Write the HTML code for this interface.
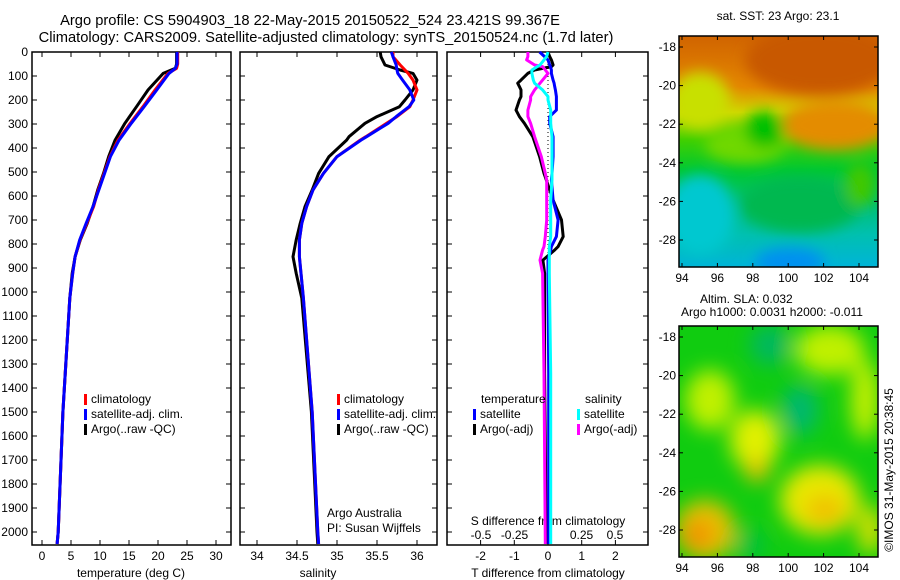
<!DOCTYPE html>
<html><head><meta charset="utf-8"><style>
body{margin:0;background:#fff}
svg{display:block;font-family:"Liberation Sans",sans-serif}
</style></head><body>
<svg id="chart" width="900" height="580" viewBox="0 0 900 580">
<defs>
<filter id="blur6" x="-50%" y="-50%" width="200%" height="200%"><feGaussianBlur stdDeviation="7"/></filter>
<filter id="blur10" x="-50%" y="-50%" width="200%" height="200%"><feGaussianBlur stdDeviation="10"/></filter>
<linearGradient id="sstg" x1="0" y1="0" x2="0" y2="1">
<stop offset="0" stop-color="#d06400"/><stop offset="0.22" stop-color="#e48600"/>
<stop offset="0.33" stop-color="#d0d800"/><stop offset="0.45" stop-color="#40d000"/>
<stop offset="0.58" stop-color="#00c830"/><stop offset="0.72" stop-color="#00c070"/>
<stop offset="0.86" stop-color="#00c0b0"/><stop offset="1" stop-color="#00b4d8"/>
</linearGradient>
<clipPath id="clip1"><rect x="679" y="36" width="199" height="231"/></clipPath>
<clipPath id="clip2"><rect x="679" y="326" width="199" height="231"/></clipPath>
</defs>
<g id="titles" font-size="14.7" text-anchor="middle">
<text x="310" y="25">Argo profile: CS 5904903_18 22-May-2015 20150522_524 23.421S 99.367E</text>
<text x="326" y="42">Climatology: CARS2009. Satellite-adjusted climatology: synTS_20150524.nc (1.7d later)</text>
</g>
<g id="p1"></g>
<g id="p2"></g>
<g id="p3"></g>
<g id="maps">
<text x="778" y="20" font-size="12" text-anchor="middle">sat. SST: 23 Argo: 23.1</text>
<g clip-path="url(#clip1)">
<rect x="679" y="36" width="199" height="231" fill="url(#sstg)"/>
<g filter="url(#blur6)">
<ellipse cx="820" cy="60" rx="75" ry="35" fill="#c85800"/>
<ellipse cx="700" cy="100" rx="30" ry="28" fill="#c8e000"/>
<ellipse cx="835" cy="125" rx="55" ry="25" fill="#e48c00"/>
<ellipse cx="745" cy="145" rx="40" ry="18" fill="#70d800"/>
<ellipse cx="765" cy="130" rx="20" ry="18" fill="#00c000"/>
<ellipse cx="700" cy="215" rx="35" ry="40" fill="#00c8d0"/>
<ellipse cx="800" cy="205" rx="60" ry="28" fill="#00b850"/>
<ellipse cx="790" cy="262" rx="35" ry="14" fill="#0090f0"/>
<ellipse cx="860" cy="185" rx="15" ry="22" fill="#40c800"/>
</g></g>
<rect x="679" y="36" width="199" height="231" fill="none" stroke="#000" stroke-width="1.5"/>
<text x="700" y="303" font-size="12">Altim. SLA: 0.032</text>
<text x="681" y="316" font-size="12">Argo h1000: 0.0031 h2000: -0.011</text>
<g clip-path="url(#clip2)">
<rect x="679" y="326" width="199" height="231" fill="#10cc10"/>
<g filter="url(#blur10)">
<ellipse cx="770" cy="345" rx="20" ry="20" fill="#00b860"/>
<ellipse cx="830" cy="350" rx="35" ry="25" fill="#c0f000"/>
<ellipse cx="710" cy="400" rx="25" ry="30" fill="#c0f000"/>
<ellipse cx="755" cy="440" rx="25" ry="30" fill="#e0f000"/>
<ellipse cx="757" cy="470" rx="12" ry="12" fill="#f0c000"/>
<ellipse cx="800" cy="410" rx="18" ry="25" fill="#00b870"/>
<ellipse cx="820" cy="500" rx="40" ry="35" fill="#e8e800"/>
<ellipse cx="825" cy="510" rx="20" ry="15" fill="#f0c000"/>
<ellipse cx="705" cy="530" rx="30" ry="30" fill="#e8c000"/>
<ellipse cx="698" cy="535" rx="15" ry="15" fill="#f09000"/>
<ellipse cx="865" cy="400" rx="14" ry="40" fill="#c8f000"/>
<ellipse cx="870" cy="530" rx="12" ry="25" fill="#e0e000"/>
<ellipse cx="750" cy="545" rx="15" ry="15" fill="#00c040"/>
</g></g>
<rect x="679" y="326" width="199" height="231" fill="none" stroke="#000" stroke-width="1.5"/>
<text transform="translate(893,470) rotate(-90)" font-size="12" text-anchor="middle">©IMOS 31-May-2015 20:38:45</text>
</g>
</svg>
<script>
var tDepth = [0,50,68,89,158,228,297,367,436,506,575,644,714,783,853,922,1026,1500,2000,2050];
var tClim  = [23.4,23.4,23.2,21.7,19.5,17.4,15.2,13.1,11.7,10.7,9.7,8.9,7.7,6.55,5.7,5.3,4.8,3.6,2.8,2.6];
var tSat   = [23.3,23.3,23.0,21.9,19.8,17.6,15.4,13.3,11.8,10.8,9.8,8.8,7.6,6.5,5.7,5.3,4.8,3.6,2.8,2.6];
var tArgo  = [23.2,23.2,23.0,20.9,18.3,16.3,14.3,12.6,11.5,10.6,9.6,8.8,7.8,6.6,5.7,5.2,4.8,3.6,2.8,2.6];
var sDepth = [0,20,54,75,89,117,158,200,228,269,297,353,367,436,506,575,644,714,783,853,922,1026,1500,2000,2050];
var sClim  = [35.7,35.7,35.79,35.85,35.89,35.95,36.0,35.95,35.91,35.75,35.62,35.36,35.29,35.0,34.83,34.7,34.62,34.56,34.53,34.53,34.55,34.58,34.69,34.76,34.77];
var sSat   = [35.68,35.7,35.74,35.75,35.76,35.82,35.91,35.96,35.9,35.74,35.64,35.37,35.3,35.0,34.83,34.7,34.62,34.56,34.53,34.53,34.55,34.58,34.69,34.76,34.77];
var sArgo  = [35.54,35.55,35.6,35.79,35.95,36.0,35.95,35.85,35.78,35.5,35.35,35.15,35.12,34.9,34.77,34.69,34.6,34.54,34.49,34.45,34.49,34.56,34.68,34.75,34.76];
var dDepth = [0,19,33,54,61,75,89,117,130,144,158,186,200,242,269,297,353,436,506,533,617,700,769,811,825,867,922,1339,2050];
var dTArgo = [0,0.05,0.1,0.15,0.1,-0.4,-0.6,-0.8,-0.9,-0.85,-0.8,-0.8,-0.85,-0.95,-0.85,-0.7,-0.45,-0.25,-0.12,-0.05,0.15,0.4,0.45,0.3,0.2,-0.15,-0.1,-0.1,-0.05];
var dTSat  = [-0.25,-0.1,0,0.05,0.07,0.1,0.1,0.15,0.18,0.2,0.22,0.25,0.25,0.25,0.05,0.05,0.15,0.15,0.12,0.1,0.15,0.3,0.25,0.1,0.08,0,0,0.02,0.02];
var dSArgo = [-0.15,-0.15,-0.16,-0.1,-0.04,-0.02,0,-0.04,-0.06,-0.08,-0.1,-0.13,-0.13,-0.15,-0.15,-0.13,-0.1,-0.05,-0.02,-0.01,-0.01,-0.01,-0.02,-0.03,-0.04,-0.06,-0.04,-0.03,-0.02];
var dSSat  = [0,-0.01,-0.03,-0.06,-0.08,-0.12,-0.12,-0.11,-0.1,-0.07,-0.04,0,0,0.02,0.02,0.02,0.03,0.03,0.03,0.03,0.02,0.02,0.02,0.01,0.01,0.01,0.01,0.02,0.02];
var depthTicks = [0,100,200,300,400,500,600,700,800,900,1000,1100,1200,1300,1400,1500,1600,1700,1800,1900,2000];
var tTicks = [0,5,10,15,20,25,30];
var sTicks = [34,34.5,35,35.5,36];
var dtTicks = [-2,-1,0,1,2];
var dsTicks = ["-0.5","-0.25","0","0.25","0.5"];
var lonTicks = [94,96,98,100,102,104];
var latTicks = [-18,-20,-22,-24,-26,-28];

var NS='http://www.w3.org/2000/svg';
var svg=document.getElementById('chart');
function el(parent,tag,attrs,text){var e=document.createElementNS(NS,tag);for(var k in attrs)e.setAttribute(k,attrs[k]);if(text!==undefined)e.textContent=text;parent.appendChild(e);return e;}
var Y0=52, Y1=545;
function yD(d){return 52+d*0.24;}
function xT(v){return 42+v*5.8;}
function xS(v){return 257+(v-34)*80;}
function xDT(v){return 548+v*33.7;}
function xDS(v){return 548+v*134;}
function frame(g,x0,x1,name){
  var r=el(g,'rect',{x:x0,y:Y0,width:x1-x0,height:Y1-Y0,fill:'none',stroke:'#000','stroke-width':1.5});
  
  
  depthTicks.forEach(function(d){
    el(g,'line',{x1:x0,x2:x0+5,y1:yD(d),y2:yD(d),stroke:'#000'});
    el(g,'line',{x1:x1,x2:x1-5,y1:yD(d),y2:yD(d),stroke:'#000'});
  });
}
function xticks(g,arr,f,labels,y){
  arr.forEach(function(v,i){
    var x=f(v);
    el(g,'line',{x1:x,x2:x,y1:Y0,y2:Y0+5,stroke:'#000'});
    el(g,'line',{x1:x,x2:x,y1:Y1,y2:Y1-5,stroke:'#000'});
    if(labels){var t=el(g,'text',{x:x,y:y,'font-size':12,'text-anchor':'middle'},labels[i]);
    
    }
  });
}
function line(g,vals,depths,f,color,w,name){
  var pts=vals.map(function(v,i){return f(v).toFixed(1)+','+yD(depths[i]).toFixed(1);}).join(' ');
  var p=el(g,'polyline',{points:pts,fill:'none',stroke:color,'stroke-width':w,'stroke-linejoin':'round'});
  
  
}
function legendItem(g,x,y,color,label,name){
  el(g,'rect',{x:x,y:y-9,width:3,height:11,fill:color});
  var t=el(g,'text',{x:x+7,y:y,'font-size':12},label);
  
  
}
var ya=el(svg,'g',{});


depthTicks.forEach(function(d){el(ya,'text',{x:28,y:yD(d)+4,'font-size':12,'text-anchor':'end'},String(d));});

var p1=document.getElementById('p1');
frame(p1,32,231,'temperature');
xticks(p1,tTicks,xT,tTicks.map(String),560);
line(p1,tArgo,tDepth,xT,'#000',3,'argo-temperature-line');
line(p1,tClim,tDepth,xT,'#f00',3,'climatology-temperature-line');
line(p1,tSat,tDepth,xT,'#00f',3,'satellite-temperature-line');
el(p1,'text',{x:131,y:577,'font-size':12,'text-anchor':'middle'},'temperature (deg C)');
legendItem(p1,84,403,'#f00','climatology','legend-climatology');
legendItem(p1,84,418,'#00f','satellite-adj. clim.','legend-satellite');
legendItem(p1,84,433,'#000','Argo(..raw -QC)','legend-argo');

var p2=document.getElementById('p2');
frame(p2,240,437,'salinity');
xticks(p2,sTicks,xS,['34','34.5','35','35.5','36'],560);
line(p2,sArgo,sDepth,xS,'#000',3,'argo-salinity-line');
line(p2,sClim,sDepth,xS,'#f00',3,'climatology-salinity-line');
line(p2,sSat,sDepth,xS,'#00f',3,'satellite-salinity-line');
el(p2,'text',{x:318,y:577,'font-size':12,'text-anchor':'middle'},'salinity');
legendItem(p2,337,403,'#f00','climatology','legend2-climatology');
legendItem(p2,337,418,'#00f','satellite-adj. clim.','legend2-satellite');
legendItem(p2,337,433,'#000','Argo(..raw -QC)','legend2-argo');
el(p2,'text',{x:327,y:517,'font-size':12},'Argo Australia');
el(p2,'text',{x:327,y:532,'font-size':12},'PI: Susan Wijffels');

var p3=document.getElementById('p3');
frame(p3,447,648,'difference');
el(p3,'line',{x1:548,x2:548,y1:Y0,y2:Y1,stroke:'#000','stroke-dasharray':'1,3'});
xticks(p3,dtTicks,xDT,['-2','-1','0','1','2'],560);
dsTicks.forEach(function(s){var x=xDS(parseFloat(s));el(p3,'text',{x:x,y:539,'font-size':12,'text-anchor':'middle'},s);});
el(p3,'text',{x:548,y:525,'font-size':12,'text-anchor':'middle'},'S difference from climatology');
el(p3,'text',{x:548,y:577,'font-size':12,'text-anchor':'middle'},'T difference from climatology');
line(p3,dTArgo,dDepth,xDT,'#000',3,'argo-t-diff-line');
line(p3,dTSat,dDepth,xDT,'#00f',3,'satellite-t-diff-line');
line(p3,dSArgo,dDepth,xDS,'#f0f',3,'argo-s-diff-line');
line(p3,dSSat,dDepth,xDS,'#0ff',3,'satellite-s-diff-line');
el(p3,'text',{x:481,y:403,'font-size':12},'temperature');
el(p3,'text',{x:585,y:403,'font-size':12},'salinity');
legendItem(p3,473,418,'#00f','satellite','legend3-t-satellite');
legendItem(p3,473,433,'#000','Argo(-adj)','legend3-t-argo');
legendItem(p3,577,418,'#0ff','satellite','legend3-s-satellite');
legendItem(p3,577,433,'#f0f','Argo(-adj)','legend3-s-argo');

var maps=document.getElementById('maps');
function xLon(v){return 682+(v-94)*17.7;}
function mapAxes(top,lat18y){
  var bot=top+231;
  lonTicks.forEach(function(v){var x=xLon(v);
    el(maps,'line',{x1:x,x2:x,y1:top,y2:top+4,stroke:'#000'});
    el(maps,'line',{x1:x,x2:x,y1:bot,y2:bot-4,stroke:'#000'});
    el(maps,'text',{x:x,y:bot+15,'font-size':12,'text-anchor':'middle'},String(v));});
  latTicks.forEach(function(v){var y=lat18y+(-18-v)*19.3;
    el(maps,'line',{x1:679,x2:683,y1:y,y2:y,stroke:'#000'});
    el(maps,'line',{x1:878,x2:874,y1:y,y2:y,stroke:'#000'});
    el(maps,'text',{x:676,y:y+4,'font-size':12,'text-anchor':'end'},String(v));});
}
mapAxes(36,47);
mapAxes(326,337);
</script>
</body></html>
